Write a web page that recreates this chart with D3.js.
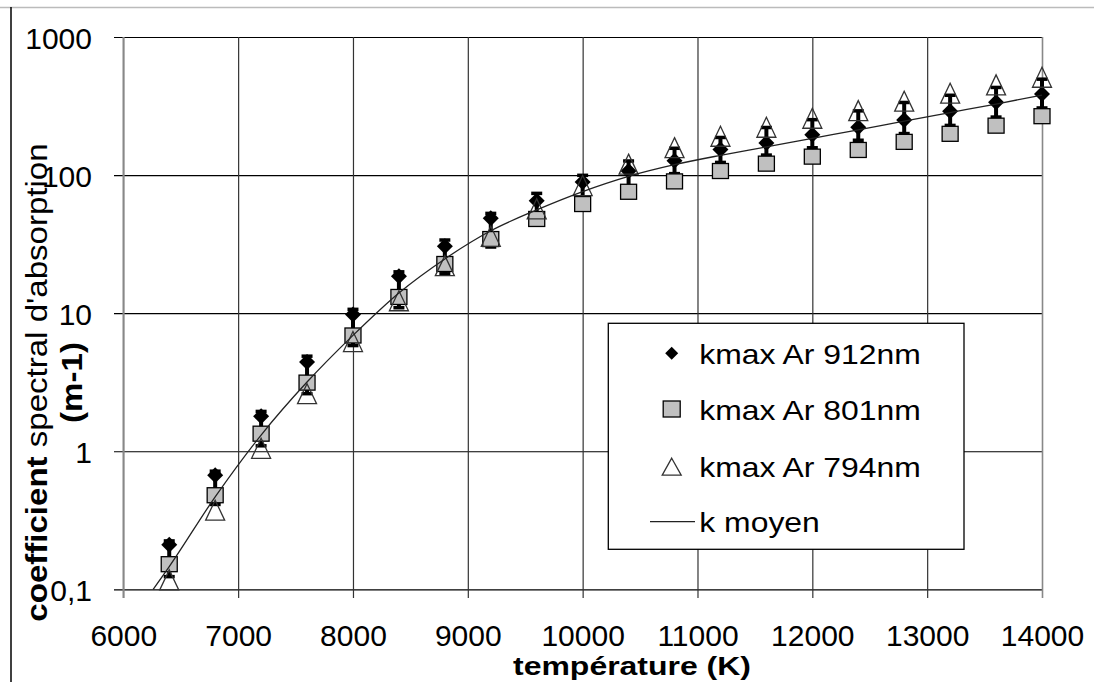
<!DOCTYPE html>
<html><head><meta charset="utf-8">
<script src="https://cdn.jsdelivr.net/npm/d3@7"></script>
<style>
body{margin:0;background:#fff;}
svg{display:block;}
text{font-family:"Liberation Sans",Arial,sans-serif;fill:#000;}
</style>
</head><body>
<svg id="c" width="1094" height="682"></svg>
<script>
// ---- data ----
const temperatures = [6400, 6800, 7200, 7600, 8000, 8400, 8800, 9200, 9600, 10000,
  10400, 10800, 11200, 11600, 12000, 12400, 12800, 13200, 13600, 14000];
const k912 = [0.21, 0.67, 1.79, 4.42, 9.77, 18.5, 30.5, 48.6, 65.2, 89,
  107, 127, 153, 171, 196, 222, 251, 290, 337, 387];
const k912High = [0.225, 0.72, 1.95, 4.9, 10.7, 20, 34, 53, 74, 100,
  127, 157, 188, 222, 253, 293, 337, 380, 433, 497];
const k912Low = [0.123, 0.41, 1.09, 2.6, 5.8, 10.9, 19.2, 30, 48, 65,
  80, 102, 123, 139, 157, 178, 199, 228, 262, 305];
const k801 = [0.152, 0.48, 1.34, 3.14, 6.89, 13.1, 22.7, 34.4, 48.1, 61.7,
  75.7, 90, 107, 121, 136, 152, 174, 199, 228, 267];
const k794 = [0.117, 0.374, 1.05, 2.61, 6.23, 12.3, 22.1, 36, 57, 84,
  120, 158, 191, 222, 258, 293, 343, 392, 450, 511];
const moyenT = [6260, 6400, 6800, 7200, 7600, 8000, 8400, 8800, 9200, 9600, 10000,
  10400, 10800, 11200, 11600, 12000, 12400, 12800, 13200, 13600, 14000];
const moyenK = [0.1, 0.146, 0.467, 1.31, 3.17, 6.9, 14, 24.7, 39.5, 56, 76,
  98, 119, 139, 160, 184.6, 212.6, 246, 283.6, 327, 380];
const xTicks = [6000, 7000, 8000, 9000, 10000, 11000, 12000, 13000, 14000];
const yTicks = [0.1, 1, 10, 100, 1000];
const yTickLabels = ["0,1", "1", "10", "100", "1000"];
const legendLabels = ["kmax Ar 912nm", "kmax Ar 801nm", "kmax Ar 794nm", "k moyen"];
const xTitle = "température (K)";
const yTitleBold = "coefficient";
const yTitleRest = " spectral d'absorption";
const yTitle2 = "(m-1)";

// ---- layout ----
const L = 123.3, R = 1042, T = 37, B = 589.3, tickBottom = 598;
const svg = d3.select("#c");
const x = d3.scaleLinear().domain([6000, 14000]).range([L, R]);
const y = d3.scaleLog().domain([0.1, 1000]).range([B, T]);

// frame of the scanned figure
svg.append("line").attr("x1", 0).attr("x2", 1094).attr("y1", 7.5).attr("y2", 7.5)
  .attr("stroke", "#bbb").attr("stroke-width", 1.5);
svg.append("line").attr("x1", 11).attr("x2", 11).attr("y1", 7).attr("y2", 682)
  .attr("stroke", "#000").attr("stroke-width", 1.5);

// y axis + horizontal grid
const yAxis = d3.axisLeft(y).tickValues(yTicks)
  .tickFormat((d, i) => yTickLabels[i])
  .tickSize(-(R - 114)).tickPadding(22);
const gy = svg.append("g").attr("transform", "translate(114,0)").call(yAxis);
gy.select(".domain").remove();
gy.selectAll(".tick line").attr("stroke", "#000").attr("stroke-width", 1.2);
gy.selectAll(".tick text").attr("font-size", 30).attr("dy", 11)
  .attr("font-family", "'Liberation Sans',Arial,sans-serif").attr("fill", "#000");

// x axis + vertical grid
const xAxis = d3.axisBottom(x).tickValues(xTicks).tickFormat(d3.format("d"))
  .tickSize(-(tickBottom - T)).tickPadding(0);
const gx = svg.append("g").attr("transform", `translate(0,${tickBottom})`).call(xAxis);
gx.select(".domain").remove();
gx.selectAll(".tick line").attr("stroke", d => (d === 6000 || d === 14000) ? "#888" : "#333")
  .attr("stroke-width", d => (d === 6000 || d === 14000) ? 1.6 : 1.2);
gx.selectAll(".tick text").attr("font-size", 30).attr("dy", 0).attr("y", 48)
  .attr("font-family", "'Liberation Sans',Arial,sans-serif").attr("fill", "#000");

// y axis line
svg.append("line").attr("x1", L).attr("x2", L).attr("y1", T).attr("y2", tickBottom)
  .attr("stroke", "#888").attr("stroke-width", 1.6);

// marker shapes
const diamondPath = s => `M0,${-s}L${s},0L0,${s}L${-s},0Z`;
const trianglePath = (w, h) => `M0,${-h / 2}L${w / 2},${h / 2}L${-w / 2},${h / 2}Z`;

const pts = temperatures.map((t, i) => ({
  t, k912: k912[i], hi: k912High[i], lo: k912Low[i], k801: k801[i], k794: k794[i]
}));

// series 912: error bars + diamonds
const g912 = svg.append("g");
g912.selectAll("line.err").data(pts).join("line").attr("class", "err")
  .attr("x1", d => x(d.t)).attr("x2", d => x(d.t))
  .attr("y1", d => y(d.hi)).attr("y2", d => y(d.lo))
  .attr("stroke", "#000").attr("stroke-width", 4);
g912.selectAll("rect.caphi").data(pts).join("rect").attr("class", "caphi")
  .attr("x", d => x(d.t) - 5.5).attr("y", d => y(d.hi) - 1.5)
  .attr("width", 11).attr("height", 3.5).attr("fill", "#000");
g912.selectAll("rect.caplo").data(pts).join("rect").attr("class", "caplo")
  .attr("x", d => x(d.t) - 5.5).attr("y", d => y(d.lo) - 2)
  .attr("width", 11).attr("height", 3.5).attr("fill", "#000");
g912.selectAll("path.dia").data(pts).join("path").attr("class", "dia")
  .attr("transform", d => `translate(${x(d.t)},${y(d.k912)})`)
  .attr("d", diamondPath(8)).attr("fill", "#000");

// series 801: squares
svg.append("g").selectAll("rect").data(pts).join("rect")
  .attr("x", d => x(d.t) - 8).attr("y", d => y(d.k801) - 7.5)
  .attr("width", 16).attr("height", 15)
  .attr("fill", "#c0c0c0").attr("stroke", "#000").attr("stroke-width", 1.3);

// series 794: hollow triangles
svg.append("g").selectAll("path").data(pts).join("path")
  .attr("transform", d => `translate(${x(d.t)},${y(d.k794)})`)
  .attr("d", trianglePath(19, 20)).attr("fill", "none")
  .attr("stroke", "#333").attr("stroke-width", 1.3);

// k moyen line
const lineData = moyenT.map((t, i) => [t, moyenK[i]]);
svg.append("path").datum(lineData)
  .attr("d", d3.line().x(d => x(d[0])).y(d => y(d[1])).curve(d3.curveMonotoneX))
  .attr("fill", "none").attr("stroke", "#222").attr("stroke-width", 1.3);

// legend
const lg = svg.append("g");
lg.append("rect").attr("x", 608.3).attr("y", 323.3).attr("width", 355.7).attr("height", 226)
  .attr("fill", "#fff").attr("stroke", "#000").attr("stroke-width", 1.3);
const rowY = [353.3, 409, 466.7, 521.7];
const mx = 671.7;
lg.append("path").attr("transform", `translate(${mx},${rowY[0]})`).attr("d", diamondPath(6.5)).attr("fill", "#000");
lg.append("rect").attr("x", mx - 8.5).attr("y", rowY[1] - 8).attr("width", 17).attr("height", 16)
  .attr("fill", "#c0c0c0").attr("stroke", "#000").attr("stroke-width", 1.3);
lg.append("path").attr("transform", `translate(${mx},${rowY[2]})`).attr("d", trianglePath(19, 17))
  .attr("fill", "none").attr("stroke", "#333").attr("stroke-width", 1.3);
lg.append("line").attr("x1", 650).attr("x2", 695).attr("y1", rowY[3]).attr("y2", rowY[3])
  .attr("stroke", "#222").attr("stroke-width", 1.3);
legendLabels.forEach((lab, i) => {
  lg.append("text").attr("transform", `translate(699.3,${rowY[i] + 10.5}) scale(1.16,1)`)
    .attr("font-size", 27.5).text(lab);
});

// axis titles
svg.append("text").attr("transform", "translate(632,675) scale(1.23,1)")
  .attr("text-anchor", "middle").attr("font-size", 26).attr("font-weight", "bold").text(xTitle);
const yt = svg.append("text").attr("transform", "translate(47,382.5) rotate(-90) scale(1.14,1)")
  .attr("text-anchor", "middle").attr("font-size", 29);
yt.append("tspan").attr("font-weight", "bold").text(yTitleBold);
yt.append("tspan").text(yTitleRest);
svg.append("text").attr("transform", "translate(82,382.5) rotate(-90) scale(1.14,1)")
  .attr("text-anchor", "middle").attr("font-size", 29).attr("font-weight", "bold").text(yTitle2);
</script>
</body></html>
